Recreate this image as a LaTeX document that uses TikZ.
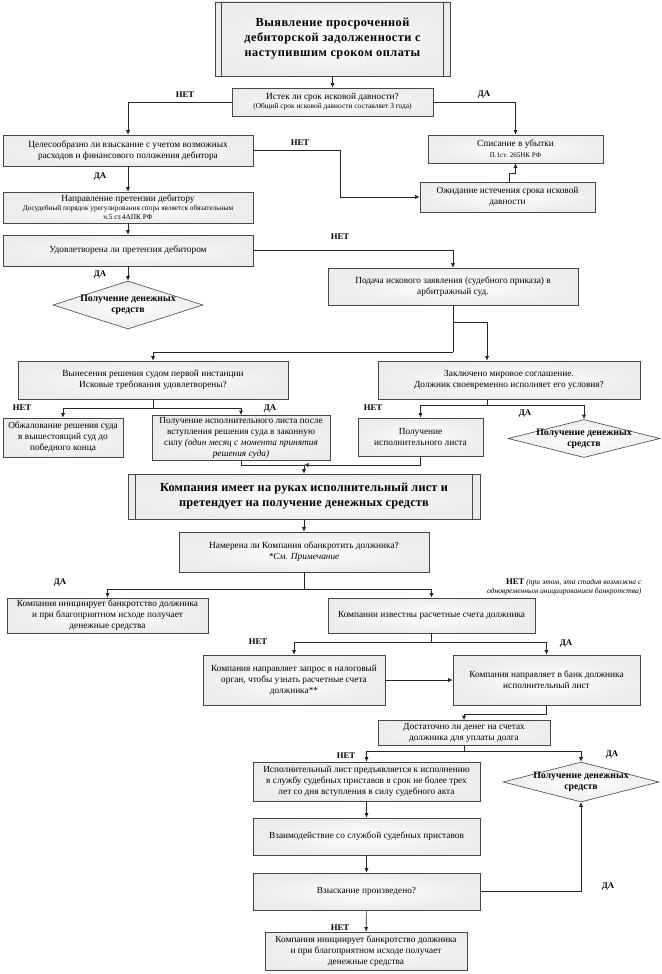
\documentclass[tikz,border=0pt]{standalone}
\usepackage{fontspec}
\setmainfont{Liberation Serif}
\usetikzlibrary{arrows.meta,shapes.geometric,calc}
\newcommand\smtxt{\fontsize{7.3}{8}\selectfont}
\begin{document}
\begin{tikzpicture}[x=1pt,y=-1pt,
  bx/.style={draw=gray!55!black, line width=0.6pt, inner color=white, outer color=gray!15,
    align=center, inner xsep=2pt, inner ysep=2pt, font=\fontsize{9.3}{11}\selectfont},
  sz/.style 2 args={minimum width=#1pt, minimum height=#2pt},
  ttl/.style={font=\fontsize{12.3}{15}\selectfont\bfseries\addfontfeatures{LetterSpace=4}},
  ttlb/.style={font=\fontsize{12.3}{15}\selectfont\bfseries\addfontfeatures{LetterSpace=1.5}},
  dia/.style={draw=gray!55!black, line width=0.6pt, diamond, inner color=white, outer color=gray!15,
    minimum width=150pt, minimum height=48pt, inner sep=0pt},
  dtext/.style={align=center, font=\fontsize{9.8}{11}\selectfont\bfseries},
  lab/.style={font=\fontsize{8.7}{10}\selectfont\bfseries},
  ln/.style={draw=black!85, line width=0.6pt},
  arr/.style={ln, -{Latex[length=4.5pt,width=4pt]}},
  bar/.style={draw=gray!55!black, line width=0.6pt}]
\useasboundingbox (0,0) rectangle (661,974);

% nodes
\node[bx, sz={235}{74}, ttl] (top) at (332.5,39) {Выявление просроченной\\дебиторской задолженности с\\наступившим сроком оплаты};
\draw[bar] ([xshift=7pt]top.north west) -- ([xshift=7pt]top.south west);
\draw[bar] ([xshift=-7pt]top.north east) -- ([xshift=-7pt]top.south east);

\node[bx, sz={201}{28}] (q1) at (332.5,102) {Истек ли срок исковой давности?\\[-2pt]{\fontsize{7.4}{8}\selectfont (Общий срок исковой давности составляет 3 года)}};

\node[bx, sz={250}{31}] (cel) at (128,150.5) {Целесообразно ли взыскание с учетом возможных\\расходов и финансового положения дебитора};
\node[bx, sz={175}{28}] (spis) at (515.5,149) {Списание в убытки\\{\fontsize{7}{8}\selectfont П.1ст. 265НК РФ}};
\node[bx, sz={175}{30}] (ozh) at (507.5,197) {Ожидание истечения срока исковой\\давности};
\node[bx, sz={250}{31}] (napr) at (128,207.5) {Направление претензии дебитору\\[-2pt]{\smtxt Досудебный порядок урегулирования спора является обязательным}\\[-2pt]{\smtxt ч.5 ст.4АПК РФ}};
\node[bx, sz={250}{31}] (ud) at (128,250.5) {Удовлетворена ли претензия дебитором};
\node[bx, sz={250}{37}] (pod) at (453,286.5) {Подача искового заявления (судебного приказа) в\\арбитражный суд.};

\node[dia] (d1) at (128,305) {};
\node[dtext] (d1t) at (d1) {Получение денежных\\средств};

\node[bx, sz={270}{38}] (vyn) at (153,380) {Вынесения решения судом первой инстанции\\Исковые требования удовлетворены?};
\node[bx, sz={262}{38}] (zak) at (509,380) {Заключено мировое соглашение.\\Должник своевременно исполняет его условия?};

\node[bx, sz={120}{39}] (obzh) at (63,437.5) {Обжалование решения суда\\в вышестоящий суд до\\победного конца};
\node[bx, sz={178}{42}] (polisp) at (241,438) {Получение исполнительного листа после\\вступления решения суда в законную\\силу \textit{(один месяц с момента принятия}\\\textit{решения суда)}};
\node[bx, sz={125}{38}] (posl) at (420.5,437) {Получение\\исполнительного листа};
\node[dia, minimum width=152pt, minimum height=38pt] (d2) at (584,438.5) {};
\node[dtext] (d2t) at (d2) {Получение денежных\\средств};

\node[bx, sz={352}{45}, ttlb] (big) at (304,496.5) {Компания имеет на руках исполнительный лист и\\претендует на получение денежных средств};
\draw[bar] ([xshift=8pt]big.north west) -- ([xshift=8pt]big.south west);
\draw[bar] ([xshift=-8pt]big.north east) -- ([xshift=-8pt]big.south east);

\node[bx, sz={250}{40}] (nam) at (304,552) {Намерена ли Компания обанкротить должника?\\\textit{*См. Примечание}};

\node[bx, sz={201}{35}] (bank1) at (107.5,615.5) {Компания инициирует банкротство должника\\и при благоприятном исходе получает\\денежные средства};
\node[bx, sz={207}{35}] (izv) at (431.5,615.5) {Компании известны расчетные счета должника};

\node[bx, sz={182}{50}] (zapr) at (294,680) {Компания направляет запрос в налоговый\\орган, чтобы узнать расчетные счета\\должника**};
\node[bx, sz={187}{50}] (bankl) at (546.5,680) {Компания направляет в банк должника\\исполнительный лист};

\node[bx, sz={172}{25}] (dost) at (464,733) {Достаточно ли денег на счетах\\должника для уплаты долга};

\node[bx, sz={227}{39}] (isp) at (366.5,781.5) {Исполнительный лист предъявляется к исполнению\\в службу судебных приставов в срок не более трех\\лет со дня вступления в силу судебного акта};
\node[dia, minimum width=156pt, minimum height=40pt] (d3) at (581,782) {};
\node[dtext] (d3t) at (d3) {Получение денежных\\средств};

\node[bx, sz={227}{37}] (vzai) at (366.5,836.5) {Взаимодействие со службой судебных приставов};
\node[bx, sz={227}{37}] (vzysk) at (366.5,891.5) {Взыскание произведено?};
\node[bx, sz={202}{38}] (fin) at (366,951) {Компания инициирует банкротство должника\\и при благоприятном исходе получает\\денежные средства};

% labels
\node[lab] (l1) at (185,95) {НЕТ};
\node[lab] (l2) at (484,95) {ДА};
\node[lab] (l3) at (300,143) {НЕТ};
\node[lab] (l4) at (100,177) {ДА};
\node[lab] (l5) at (340,237) {НЕТ};
\node[lab] (l6) at (100,275) {ДА};
\node[lab] (l7) at (22,408) {НЕТ};
\node[lab] (l8) at (270,409) {ДА};
\node[lab] (l9) at (373,408) {НЕТ};
\node[lab] (l10) at (525,414) {ДА};
\node[lab] (l11) at (60,583) {ДА};
\node[align=right, anchor=east, font=\fontsize{7.6}{9}\selectfont] (l12) at (645,587) {\textbf{\fontsize{8.7}{8.7}\selectfont НЕТ} \textit{(при этом, эта стадия возможна с}\\\textit{одновременным инициированием банкротства)}};
\node[lab] (l13) at (258,642) {НЕТ};
\node[lab] (l14) at (566,644) {ДА};
\node[lab] (l15) at (346,756) {НЕТ};
\node[lab] (l16) at (612,755) {ДА};
\node[lab] (l17) at (608,887) {ДА};
\node[lab] (l18) at (340,928) {НЕТ};

% junctions
\coordinate (j1) at (453,322);
\coordinate (j2) at (453,352);
\coordinate (j3) at (153,408);
\coordinate (j4) at (487,405);
\coordinate (j5) at (304,465);
\coordinate (j6) at (304,589);
\coordinate (j7) at (431.5,642);
\coordinate (j8) at (464,714);
\coordinate (j9) at (464,751);

% connectors
\draw[arr] (top) -- (q1);
\draw[arr] (q1.west) -| (cel.north);
\draw[arr] (q1.east) -| (spis.north);
\draw[arr] (cel.east) -- ++(87,0) |- (ozh.west);
\draw[arr] ([xshift=2pt]ozh.north) -- ++(0,-8) -| (spis.south);
\draw[arr] (cel) -- (napr);
\draw[arr] (napr) -- (ud);
\draw[arr] (ud.east) -| (pod.north);
\draw[arr] (ud.south) -- (d1.north);
\draw[ln] (pod.south) -- (j2);
\draw[arr] (j2) -| (vyn.north);
\draw[arr] (j1) -| (zak.north -| j4);
\draw[ln] (vyn.south) -- (j3);
\draw[arr] (j3) -| (obzh.north);
\draw[arr] (j3) -| (polisp.north);
\draw[ln] (zak.south -| j4) -- (j4);
\draw[arr] (j4) -| (posl.north);
\draw[arr] (j4) -| (d2.north);
\draw[ln] (polisp.south) |- (j5);
\draw[arr] (posl.south) |- (j5);
\draw[arr] (j5) -- (big.north);
\draw[arr] (big) -- (nam);
\draw[ln] (nam.south) -- (j6);
\draw[arr] (j6) -| (bank1.north);
\draw[arr] (j6) -| (izv.north);
\draw[ln] (izv.south) -- (j7);
\draw[arr] (j7) -| (zapr.north);
\draw[arr] (j7) -| (bankl.north);
\draw[arr] (zapr) -- (bankl);
\draw[ln] (bankl.south) |- (j8);
\draw[arr] (j8) -- (dost.north);
\draw[ln] (dost.south) -- (j9);
\draw[arr] (j9) -| (isp.north);
\draw[arr] (j9) -| (d3.north);
\draw[arr] (isp) -- (vzai);
\draw[arr] (vzai) -- (vzysk);
\draw[arr] (vzysk.east) -| (d3.south);
\draw[arr] (vzysk) -- (fin);
\end{tikzpicture}
\end{document}
